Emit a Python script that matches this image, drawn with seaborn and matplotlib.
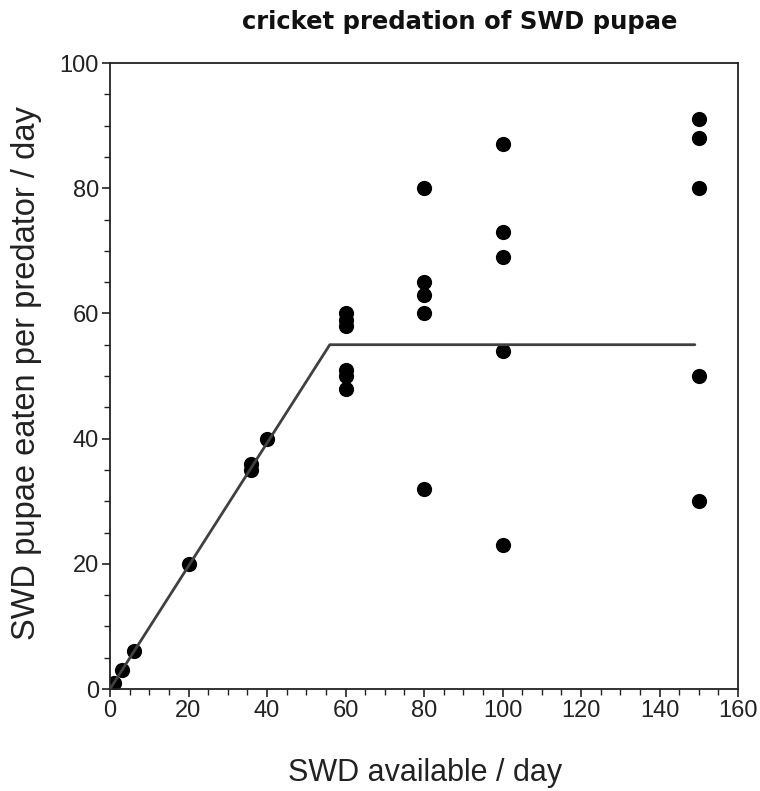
import matplotlib
matplotlib.use("Agg")
import matplotlib.pyplot as plt
import seaborn as sns
import pandas as pd
from matplotlib.ticker import MultipleLocator

# data
x_avail = [0, 1, 3, 6, 20, 36, 36, 40,
           60, 60, 60, 60, 60, 60,
           80, 80, 80, 80, 80,
           100, 100, 100, 100, 100,
           150, 150, 150, 150, 150]
y_eaten = [0, 1, 3, 6, 20, 36, 35, 40,
           60, 59, 58, 51, 50, 48,
           80, 65, 63, 60, 32,
           87, 73, 69, 54, 23,
           91, 88, 80, 50, 30]
fit_x = [0, 56, 149]
fit_y = [0, 55, 55]

sns.set_theme(style="white")
plt.rcParams['font.family'] = ['Liberation Sans', 'DejaVu Sans']

df = pd.DataFrame({"x": x_avail, "y": y_eaten})
fit = pd.DataFrame({"x": fit_x, "y": fit_y})

fig = plt.figure(figsize=(7.6, 7.91), dpi=100)
ax = fig.add_axes([110/760, 1-689/791, 628/760, 626/791])

sns.lineplot(data=fit, x="x", y="y", ax=ax, color="#404040", linewidth=2.0,
             sort=False, estimator=None, zorder=3)
sns.scatterplot(data=df, x="x", y="y", ax=ax, color="black", s=120,
                edgecolor="black", linewidth=0, zorder=2)

ax.set_xlim(0, 160)
ax.set_ylim(0, 100)
ax.xaxis.set_major_locator(MultipleLocator(20))
ax.xaxis.set_minor_locator(MultipleLocator(5))
ax.yaxis.set_major_locator(MultipleLocator(20))
ax.yaxis.set_minor_locator(MultipleLocator(5))
ax.tick_params(which="major", direction="out", length=6, width=1.2,
               color="#222222", labelsize=17, labelcolor="#222222",
               bottom=True, left=True, pad=2)
ax.tick_params(which="minor", direction="out", length=4, width=1.0,
               color="#222222", bottom=True, left=True)
for sp in ax.spines.values():
    sp.set_visible(True)
    sp.set_color("#222222")
    sp.set_linewidth(1.3)

ax.set_xlabel("SWD available / day", fontsize=22, color="#222222")
ax.set_ylabel("SWD pupae eaten per predator / day", fontsize=23.5,
              color="#222222")
ax.xaxis.set_label_coords((425-110)/628, -(773-689)/626)
ax.yaxis.set_label_coords((27-110)/628, (689-373)/626)
ax.xaxis.label.set_va("center")
ax.yaxis.label.set_va("center")
fig.text(460/760, 1-22/791, "cricket predation of SWD pupae", ha="center",
         va="center", fontsize=17.5, fontweight="bold", family="DejaVu Sans",
         color="#111111")

fig.savefig("out.png", dpi=100, facecolor="white")
